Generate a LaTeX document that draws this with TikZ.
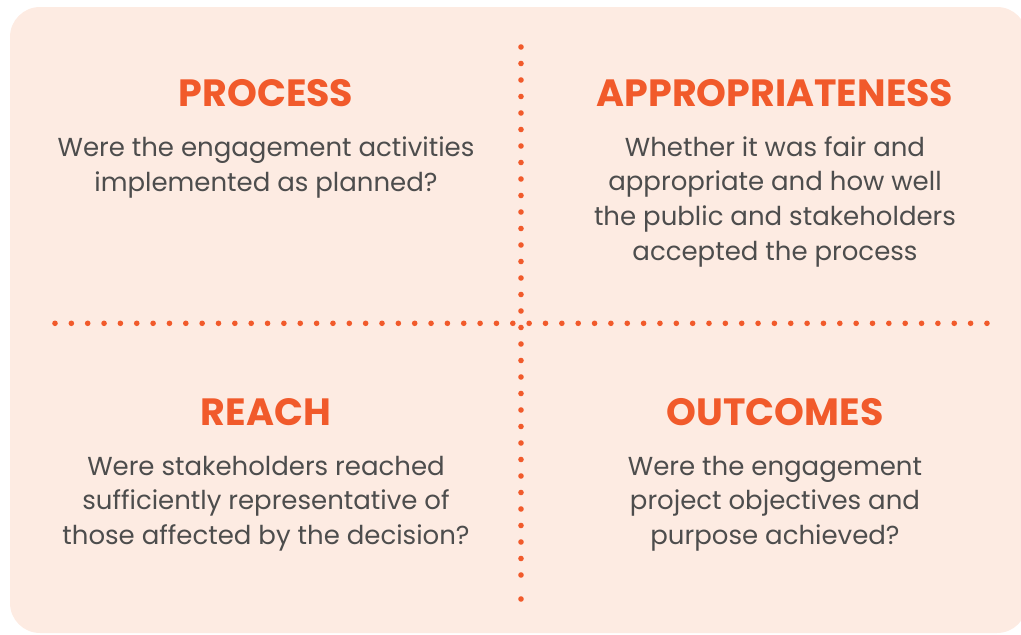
\documentclass[tikz,border=0pt]{standalone}
\usepackage{fontspec}
\setmainfont{Poppins}
\definecolor{peach}{HTML}{FDEBE2}
\definecolor{tangerine}{HTML}{F15A2B}
\definecolor{slate}{HTML}{4D4D4D}
\tikzset{
  heading/.style={anchor=base,inner sep=0.75pt,text=tangerine,font=\fontsize{38}{44}\selectfont\bfseries},
  bodytext/.style={anchor=base,inner sep=0.75pt,align=center,text=slate,font=\fontsize{26}{34.7}\selectfont},
  dot/.style={circle,fill=tangerine,inner sep=0pt,minimum size=5.6pt}
}
\begin{document}
\begin{tikzpicture}[x=1pt,y=1pt,yscale=-1,xscale=1]
			\useasboundingbox (0,0) rectangle (1021,635);
			
			%Rounded Rect 
			\fill [peach, rounded corners=30pt] (10,7) rectangle (1027,633);
			
			%Dotted Lines 
			\foreach \i in {0,...,57} {\node [dot] (h\i) at (55+16.35*\i,323.3) {};}
			\foreach \i in {0,...,32} {\node [dot] (v\i) at (521,47+16.5*\i) {};}
			\node [dot] (vend) at (521,599) {};
			
			% Text Node (base = last line)
			\draw (266,106.7) node [heading] (process) {PROCESS};
			% Text Node
			\draw (266,191.2) node [bodytext] (processtxt) {Were the engagement activities\\implemented as planned?};
			% Text Node
			\draw (775,106.7) node [heading] (approp) {APPROPRIATENESS};
			% Text Node
			\draw (775,260.2) node [bodytext] (approptxt) {Whether it was fair and\\appropriate and how well\\the public and stakeholders\\accepted the process};
			% Text Node
			\draw (266,425) node [heading] (reach) {REACH};
			% Text Node
			\draw (266,544.4) node [bodytext] (reachtxt) {Were stakeholders reached\\sufficiently representative of\\those affected by the decision?};
			% Text Node
			\draw (775,425) node [heading] (outcomes) {OUTCOMES};
			% Text Node
			\draw (775,544.4) node [bodytext] (outcomestxt) {Were the engagement\\project objectives and\\purpose achieved?};
			
\end{tikzpicture}
\end{document}
